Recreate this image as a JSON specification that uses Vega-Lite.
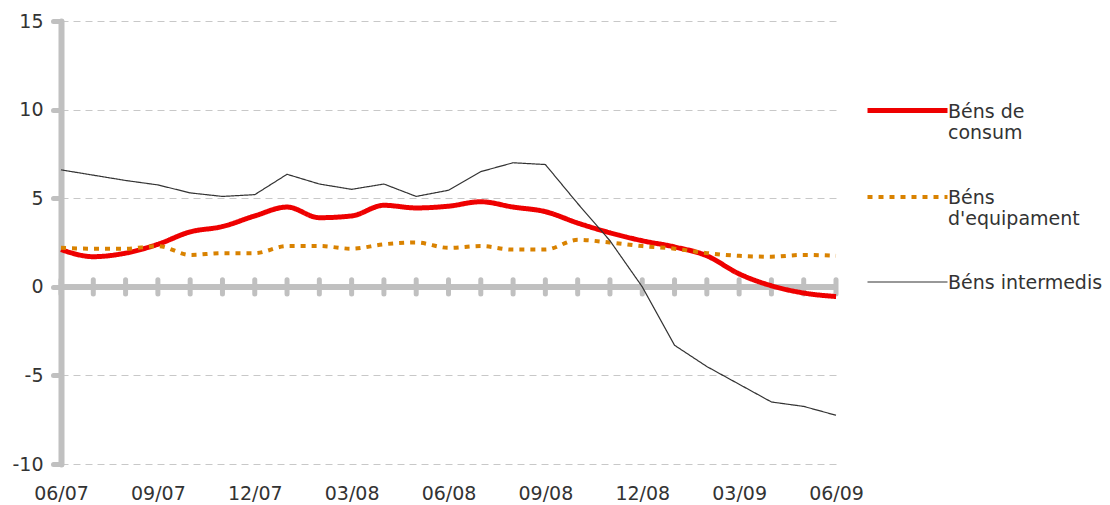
{
  "$schema": "https://vega.github.io/schema/vega-lite/v6.json",
  "width": 775,
  "height": 443,
  "autosize": "none",
  "padding": {"left": 61, "top": 21, "right": 274, "bottom": 41},
  "background": "white",
  "config": {
    "view": {"stroke": null},
    "font": "DejaVu Sans",
    "axis": {"labelFont": "DejaVu Sans", "labelFontSize": 19, "labelColor": "#333333", "title": null},
    "legend": {"labelFont": "DejaVu Sans", "labelFontSize": 19, "labelColor": "#333333"}
  },
  "datasets": {
    "series": [
      {"m": "06/07", "s": "Béns de consum", "v": 2.1},
      {"m": "07/07", "s": "Béns de consum", "v": 1.7},
      {"m": "08/07", "s": "Béns de consum", "v": 1.9},
      {"m": "09/07", "s": "Béns de consum", "v": 2.4},
      {"m": "10/07", "s": "Béns de consum", "v": 3.1},
      {"m": "11/07", "s": "Béns de consum", "v": 3.4},
      {"m": "12/07", "s": "Béns de consum", "v": 4.0},
      {"m": "01/08", "s": "Béns de consum", "v": 4.5},
      {"m": "02/08", "s": "Béns de consum", "v": 3.9},
      {"m": "03/08", "s": "Béns de consum", "v": 4.0},
      {"m": "04/08", "s": "Béns de consum", "v": 4.6},
      {"m": "05/08", "s": "Béns de consum", "v": 4.45},
      {"m": "06/08", "s": "Béns de consum", "v": 4.55},
      {"m": "07/08", "s": "Béns de consum", "v": 4.8},
      {"m": "08/08", "s": "Béns de consum", "v": 4.5},
      {"m": "09/08", "s": "Béns de consum", "v": 4.24},
      {"m": "10/08", "s": "Béns de consum", "v": 3.6},
      {"m": "11/08", "s": "Béns de consum", "v": 3.05},
      {"m": "12/08", "s": "Béns de consum", "v": 2.6},
      {"m": "01/09", "s": "Béns de consum", "v": 2.25},
      {"m": "02/09", "s": "Béns de consum", "v": 1.75},
      {"m": "03/09", "s": "Béns de consum", "v": 0.73},
      {"m": "04/09", "s": "Béns de consum", "v": 0.06},
      {"m": "05/09", "s": "Béns de consum", "v": -0.35},
      {"m": "06/09", "s": "Béns de consum", "v": -0.55},
      {"m": "06/07", "s": "Béns d'equipament", "v": 2.2},
      {"m": "07/07", "s": "Béns d'equipament", "v": 2.15},
      {"m": "08/07", "s": "Béns d'equipament", "v": 2.15},
      {"m": "09/07", "s": "Béns d'equipament", "v": 2.3},
      {"m": "10/07", "s": "Béns d'equipament", "v": 1.8},
      {"m": "11/07", "s": "Béns d'equipament", "v": 1.9},
      {"m": "12/07", "s": "Béns d'equipament", "v": 1.9},
      {"m": "01/08", "s": "Béns d'equipament", "v": 2.3},
      {"m": "02/08", "s": "Béns d'equipament", "v": 2.3},
      {"m": "03/08", "s": "Béns d'equipament", "v": 2.15},
      {"m": "04/08", "s": "Béns d'equipament", "v": 2.4},
      {"m": "05/08", "s": "Béns d'equipament", "v": 2.5},
      {"m": "06/08", "s": "Béns d'equipament", "v": 2.2},
      {"m": "07/08", "s": "Béns d'equipament", "v": 2.3},
      {"m": "08/08", "s": "Béns d'equipament", "v": 2.1},
      {"m": "09/08", "s": "Béns d'equipament", "v": 2.1},
      {"m": "10/08", "s": "Béns d'equipament", "v": 2.65},
      {"m": "11/08", "s": "Béns d'equipament", "v": 2.5},
      {"m": "12/08", "s": "Béns d'equipament", "v": 2.3},
      {"m": "01/09", "s": "Béns d'equipament", "v": 2.15},
      {"m": "02/09", "s": "Béns d'equipament", "v": 1.9},
      {"m": "03/09", "s": "Béns d'equipament", "v": 1.75},
      {"m": "04/09", "s": "Béns d'equipament", "v": 1.7},
      {"m": "05/09", "s": "Béns d'equipament", "v": 1.8},
      {"m": "06/09", "s": "Béns d'equipament", "v": 1.75},
      {"m": "06/07", "s": "Béns intermedis", "v": 6.6},
      {"m": "07/07", "s": "Béns intermedis", "v": 6.3},
      {"m": "08/07", "s": "Béns intermedis", "v": 6.0},
      {"m": "09/07", "s": "Béns intermedis", "v": 5.75},
      {"m": "10/07", "s": "Béns intermedis", "v": 5.3},
      {"m": "11/07", "s": "Béns intermedis", "v": 5.1},
      {"m": "12/07", "s": "Béns intermedis", "v": 5.2},
      {"m": "01/08", "s": "Béns intermedis", "v": 6.35},
      {"m": "02/08", "s": "Béns intermedis", "v": 5.8},
      {"m": "03/08", "s": "Béns intermedis", "v": 5.5},
      {"m": "04/08", "s": "Béns intermedis", "v": 5.8},
      {"m": "05/08", "s": "Béns intermedis", "v": 5.1},
      {"m": "06/08", "s": "Béns intermedis", "v": 5.45},
      {"m": "07/08", "s": "Béns intermedis", "v": 6.5},
      {"m": "08/08", "s": "Béns intermedis", "v": 7.0},
      {"m": "09/08", "s": "Béns intermedis", "v": 6.9},
      {"m": "10/08", "s": "Béns intermedis", "v": 4.7},
      {"m": "11/08", "s": "Béns intermedis", "v": 2.6},
      {"m": "12/08", "s": "Béns intermedis", "v": 0.0},
      {"m": "01/09", "s": "Béns intermedis", "v": -3.3},
      {"m": "02/09", "s": "Béns intermedis", "v": -4.5},
      {"m": "03/09", "s": "Béns intermedis", "v": -5.5},
      {"m": "04/09", "s": "Béns intermedis", "v": -6.5},
      {"m": "05/09", "s": "Béns intermedis", "v": -6.75},
      {"m": "06/09", "s": "Béns intermedis", "v": -7.25}
    ]
  },
  "data": {"name": "series"},
  "encoding": {
    "x": {
      "field": "m",
      "type": "ordinal",
      "sort": null,
      "scale": {"type": "point", "padding": 0},
      "axis": {
        "values": ["06/07", "09/07", "12/07", "03/08", "06/08", "09/08", "12/08", "03/09", "06/09"],
        "labelAngle": 0,
        "domain": false,
        "ticks": false,
        "grid": false,
        "labelPadding": 20
      }
    }
  },
  "layer": [
    {
      "mark": {"type": "rule", "color": "#c0c0c0", "strokeWidth": 5},
      "encoding": {
        "x": null,
        "y": {
          "datum": 0,
          "type": "quantitative",
          "scale": {"domain": [-10, 15], "nice": false, "zero": false},
          "axis": {
            "values": [-10, -5, 0, 5, 10, 15],
            "labelExpr": "toString(datum.value)",
            "domain": true,
            "domainColor": "#c0c0c0",
            "domainWidth": 6,
            "domainCap": "round",
            "ticks": true,
            "tickColor": "#c0c0c0",
            "tickWidth": 5,
            "tickSize": 8,
            "tickCap": "round",
            "labelPadding": 10,
            "grid": true,
            "gridColor": "#c8c8c8",
            "gridDash": [7, 5],
            "gridWidth": 1
          }
        }
      }
    },
    {
      "transform": [{"filter": "datum.s === 'Béns de consum'"}],
      "mark": {"type": "rule", "color": "#c0c0c0", "strokeWidth": 5, "strokeCap": "round"},
      "encoding": {
        "y": {"datum": -0.4, "type": "quantitative"},
        "y2": {"datum": 0.4}
      }
    },
    {
      "transform": [{"filter": "datum.s !== 'Béns intermedis'"}],
      "mark": {"type": "line", "interpolate": "monotone"},
      "encoding": {
        "y": {"field": "v", "type": "quantitative"},
        "color": {
          "field": "s",
          "type": "nominal",
          "scale": {
            "domain": ["Béns de consum", "Béns d'equipament", "Béns intermedis"],
            "range": ["#ee0000", "#d98200", "#333333"]
          }
        },
        "strokeDash": {
          "field": "s",
          "type": "nominal",
          "scale": {
            "domain": ["Béns de consum", "Béns d'equipament", "Béns intermedis"],
            "range": [[1, 0], [5, 6], [1, 0]]
          }
        },
        "strokeWidth": {
          "field": "s",
          "type": "nominal",
          "scale": {
            "type": "ordinal",
            "domain": ["Béns de consum", "Béns d'equipament", "Béns intermedis"],
            "range": [5, 4, 1.2]
          }
        }
      }
    },
    {
      "transform": [{"filter": "datum.s === 'Béns intermedis'"}],
      "mark": {"type": "line", "interpolate": "linear"},
      "encoding": {
        "y": {"field": "v", "type": "quantitative"},
        "color": {
          "field": "s",
          "type": "nominal",
          "scale": {
            "domain": ["Béns de consum", "Béns d'equipament", "Béns intermedis"],
            "range": ["#ee0000", "#d98200", "#333333"]
          },
          "legend": {
            "title": null,
            "orient": "none",
            "legendX": 804,
            "legendY": 47,
            "padding": 0,
            "symbolType": "stroke",
            "symbolSize": 6400,
            "labelOffset": -2,
            "labelBaseline": "top",
            "labelLineHeight": 24,
            "rowPadding": 12,
            "labelExpr": "datum.label == 'Béns de consum' ? ['Béns de', 'consum'] : datum.label == \"Béns d'equipament\" ? ['Béns', \"d'equipament\"] : [datum.label, ' ']",
            "encode": {"labels": {"update": {"dy": {"value": -8}}}}
          }
        },
        "strokeDash": {
          "field": "s",
          "type": "nominal",
          "scale": {
            "domain": ["Béns de consum", "Béns d'equipament", "Béns intermedis"],
            "range": [[1, 0], [5, 6], [1, 0]]
          }
        },
        "strokeWidth": {
          "field": "s",
          "type": "nominal",
          "scale": {
            "type": "ordinal",
            "domain": ["Béns de consum", "Béns d'equipament", "Béns intermedis"],
            "range": [5, 4, 1.2]
          }
        }
      }
    }
  ]
}
